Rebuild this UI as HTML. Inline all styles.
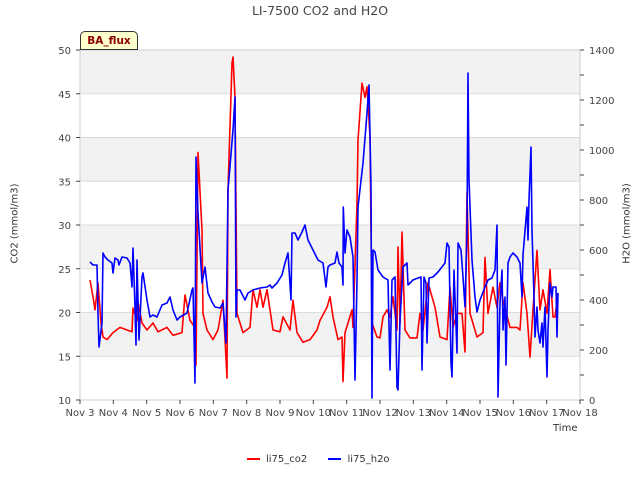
<!DOCTYPE html>
<html><head><meta charset="utf-8"><style>
body{margin:0;background:#fff;font-family:"DejaVu Sans",sans-serif}
svg text{font-family:"DejaVu Sans",sans-serif}
</style></head><body>
<svg id="c" width="640" height="480" xmlns="http://www.w3.org/2000/svg"></svg>
<script>
const xTickLabels=["Nov 3","Nov 4","Nov 5","Nov 6","Nov 7","Nov 8","Nov 9","Nov 10","Nov 11","Nov 12","Nov 13","Nov 14","Nov 15","Nov 16","Nov 17","Nov 18"];
const co2Ticks=[10,15,20,25,30,35,40,45,50];
const h2oTicks=[0,200,400,600,800,1000,1200,1400];
const co2Days=[0.30,0.39,0.45,0.54,0.63,0.69,0.81,0.99,1.20,1.41,1.56,1.59,1.71,1.74,1.86,2.01,2.19,2.34,2.61,2.79,3.06,3.15,3.30,3.45,3.48,3.54,3.66,3.69,3.81,3.99,4.14,4.29,4.41,4.44,4.56,4.59,4.65,4.71,4.89,5.10,5.19,5.31,5.40,5.49,5.61,5.79,6.00,6.09,6.30,6.39,6.51,6.69,6.90,7.11,7.20,7.41,7.50,7.59,7.74,7.86,7.89,7.95,8.04,8.16,8.19,8.31,8.34,8.46,8.55,8.61,8.70,8.76,8.91,9.00,9.09,9.21,9.30,9.39,9.51,9.54,9.60,9.66,9.75,9.90,10.11,10.20,10.29,10.44,10.56,10.65,10.80,11.01,11.10,11.19,11.31,11.46,11.55,11.61,11.70,11.91,12.09,12.15,12.24,12.39,12.51,12.60,12.69,12.90,13.11,13.20,13.29,13.41,13.50,13.59,13.71,13.80,13.89,14.01,14.10,14.19,14.25,14.34];
const co2Values=[23.7,21.8,20.3,23.4,18.8,17.2,16.9,17.7,18.3,18.0,17.8,20.5,19.1,21.2,18.8,18.0,18.8,17.8,18.3,17.4,17.7,22.0,19.1,18.3,14.0,38.3,29.4,19.9,18.0,16.9,18.0,21.4,12.5,34.0,48.5,49.2,44.6,19.9,17.7,18.3,22.6,20.6,22.6,20.6,22.6,18.0,17.8,19.5,18.0,21.4,17.7,16.6,16.9,18.0,19.1,20.6,21.8,19.5,16.9,17.2,12.1,17.7,18.8,20.3,18.3,32.5,39.7,46.2,44.6,45.8,40.1,18.8,17.2,17.1,19.5,20.3,19.5,21.8,18.0,27.5,18.8,29.2,18.0,17.1,17.1,19.9,18.0,23.4,21.8,20.6,17.2,16.9,22.9,18.3,19.9,19.9,15.5,33.7,19.9,17.2,17.7,26.3,19.9,22.9,20.6,23.4,21.4,18.3,18.3,18.0,23.4,19.9,14.9,20.3,27.1,20.3,22.6,19.9,24.9,19.5,19.5,22.2];
const h2oDays=[0.30,0.39,0.51,0.54,0.57,0.66,0.69,0.75,0.84,0.96,0.99,1.05,1.14,1.17,1.26,1.41,1.50,1.56,1.59,1.65,1.68,1.71,1.77,1.86,1.89,2.01,2.10,2.19,2.31,2.46,2.61,2.70,2.79,2.91,3.00,3.21,3.36,3.39,3.45,3.48,3.54,3.66,3.75,3.84,3.96,4.05,4.20,4.29,4.38,4.44,4.59,4.65,4.68,4.71,4.80,4.95,5.04,5.19,5.40,5.61,5.70,5.76,5.91,6.06,6.15,6.24,6.33,6.36,6.45,6.54,6.66,6.75,6.84,6.99,7.14,7.29,7.38,7.44,7.50,7.65,7.71,7.77,7.86,7.89,7.90,7.95,8.01,8.10,8.19,8.25,8.31,8.34,8.49,8.61,8.67,8.73,8.76,8.79,8.85,8.94,9.09,9.24,9.30,9.36,9.45,9.51,9.54,9.60,9.69,9.81,9.84,9.99,10.14,10.23,10.26,10.32,10.38,10.41,10.47,10.59,10.74,10.95,11.01,11.07,11.13,11.16,11.22,11.31,11.34,11.43,11.49,11.55,11.61,11.64,11.67,11.76,11.85,11.91,12.00,12.15,12.24,12.36,12.45,12.51,12.54,12.60,12.66,12.69,12.75,12.78,12.84,12.90,12.99,13.11,13.20,13.26,13.29,13.41,13.44,13.47,13.53,13.56,13.62,13.65,13.71,13.74,13.80,13.86,13.89,13.95,14.01,14.04,14.10,14.16,14.19,14.28,14.31,14.34];
const h2oValues=[552,540,540,348,212,308,588,572,560,548,508,568,560,540,572,568,548,452,608,372,220,560,240,492,508,400,332,340,332,380,388,412,360,320,332,348,440,448,68,972,748,468,532,428,392,372,368,388,228,840,1080,1212,332,440,440,400,428,440,448,452,460,448,468,500,548,588,400,668,668,640,672,700,640,600,560,548,452,532,540,548,592,548,532,460,772,588,680,652,572,80,480,772,948,1148,1260,852,8,600,592,520,492,480,120,480,492,52,40,320,532,548,460,480,488,492,120,492,468,228,488,492,512,548,628,612,148,92,520,188,628,600,492,372,680,1308,880,560,412,352,400,452,480,488,520,700,12,388,520,280,412,140,548,572,588,572,548,412,580,772,640,800,1012,680,412,252,372,280,228,308,212,372,92,280,468,412,452,452,252,428];

const NS="http://www.w3.org/2000/svg";
const svg=document.getElementById('c');
const L=80,R=580,T=50,B=400;
const xs=d=>L+d*(R-L)/15;
const yL=v=>B-(v-10)*(B-T)/40;
const yR=v=>B-v*(B-T)/1400;
function mk(tag,attrs,parent){const e=document.createElementNS(NS,tag);for(const k in attrs)e.setAttribute(k,attrs[k]);(parent||svg).appendChild(e);return e;}

for(let i=0;i<8;i++){
  const v0=10+i*5;
  if(i%2===1){const b=mk('rect',{x:L,y:yL(v0+5),width:R-L,height:yL(v0)-yL(v0+5),fill:'#f2f2f2'});
  
  }
}
co2Ticks.forEach(v=>{const g=mk('line',{x1:L,x2:R,y1:yL(v),y2:yL(v),stroke:'#dcdcdc','stroke-width':1});

});
const fr=mk('rect',{x:L,y:T,width:R-L,height:B-T,fill:'none',stroke:'#cccccc'});



co2Ticks.forEach(v=>{
  mk('line',{x1:L-4,x2:L,y1:yL(v),y2:yL(v),stroke:'#444'});
  const t=mk('text',{x:L-9,y:yL(v)+4,'text-anchor':'end','font-size':10,fill:'#444'});t.textContent=v;
  
  
});
for(let v=0;v<=1400;v+=100){mk('line',{x1:R,x2:R+4,y1:yR(v),y2:yR(v),stroke:'#444'});}
h2oTicks.forEach(v=>{
  const t=mk('text',{x:R+9,y:yR(v)+4,'font-size':10,fill:'#444'});t.textContent=v;
  
  
});
xTickLabels.forEach((s,i)=>{
  mk('line',{x1:xs(i),x2:xs(i),y1:B,y2:B+4,stroke:'#444'});
  const t=mk('text',{x:xs(i),y:B+16,'text-anchor':'middle','font-size':10,fill:'#444'});t.textContent=s;
  
  
});

function line(days,vals,yf,color,name){
  const p=days.map((d,i)=>(i?'L':'M')+xs(d).toFixed(1)+','+yf(vals[i]).toFixed(1)).join('');
  const e=mk('path',{d:p,fill:'none',stroke:color,'stroke-width':1.6,'stroke-linejoin':'round'});
  
  
}
line(co2Days,co2Values,yL,'#ff0000','co2-line');
line(h2oDays,h2oValues,yR,'#0000ff','h2o-line');
</script>
<div style="position:absolute;left:0;top:3px;width:640px;text-align:center;font-size:12.5px;color:#444">LI-7500 CO2 and H2O</div>
<div style="position:absolute;left:-35px;top:218px;width:100px;text-align:center;font-size:10px;color:#333;transform:rotate(-90deg)">CO2 (mmol/m3)</div>
<div style="position:absolute;left:577px;top:218px;width:100px;text-align:center;font-size:10px;color:#333;transform:rotate(-90deg)">H2O (mmol/m3)</div>
<div style="position:absolute;left:553px;top:423px;font-size:10px;color:#333">Time</div>
<div style="position:absolute;left:80px;top:31px;width:58px;height:19px;background:#ffffcc;border:1px solid #333;border-radius:5px 5px 0 0;font-size:10.5px;font-weight:bold;color:#8b0000;text-align:center;line-height:19px;box-sizing:border-box">BA_flux</div>
<div style="position:absolute;left:247px;top:454px;font-size:10px;color:#333;white-space:nowrap">
<span><span style="display:inline-block;width:13px;height:2px;background:#f00;vertical-align:middle;margin-right:6px"></span>li75_co2</span>
<span style="margin-left:18px"><span style="display:inline-block;width:13px;height:2px;background:#00f;vertical-align:middle;margin-right:6px"></span>li75_h2o</span>
</div>
</body></html>
